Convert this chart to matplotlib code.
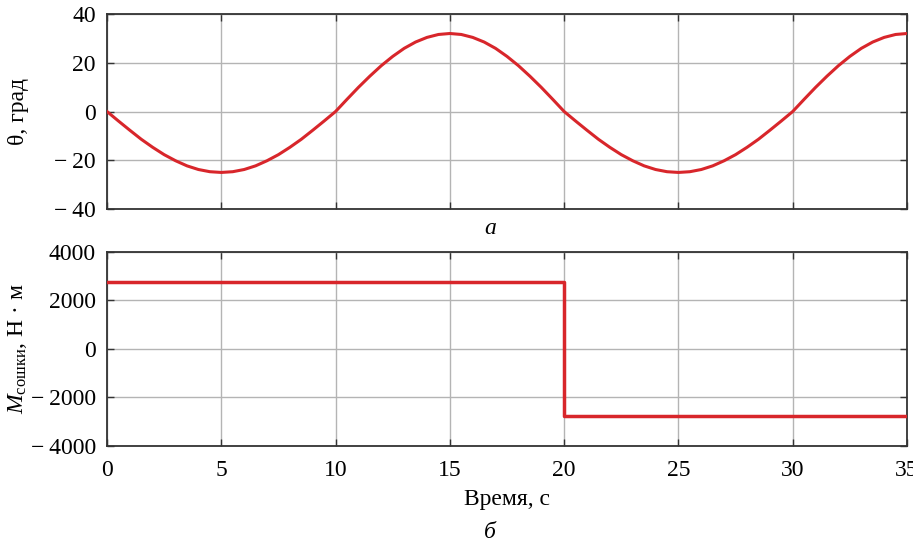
import matplotlib
matplotlib.use("Agg")
import matplotlib.pyplot as plt
from matplotlib.ticker import FixedLocator, FuncFormatter

plt.rcParams['font.family'] = ['Liberation Serif', 'DejaVu Serif']
plt.rcParams['mathtext.fontset'] = 'custom'
plt.rcParams['mathtext.rm'] = 'Liberation Serif'
plt.rcParams['mathtext.it'] = 'Liberation Serif:italic'

# ---- data ----
time_theta = [0, 0.5, 1, 1.5, 2, 2.5, 3, 3.5, 4, 4.5, 5, 5.5, 6, 6.5, 7, 7.5, 8, 8.5, 9, 9.5,
              10, 10.5, 11, 11.5, 12, 12.5, 13, 13.5, 14, 14.5, 15, 15.5, 16, 16.5, 17, 17.5,
              18, 18.5, 19, 19.5, 20, 20.5, 21, 21.5, 22, 22.5, 23, 23.5, 24, 24.5, 25, 25.5,
              26, 26.5, 27, 27.5, 28, 28.5, 29, 29.5, 30, 30.5, 31, 31.5, 32, 32.5, 33, 33.5,
              34, 34.5, 35]
theta = [0, -3.9, -7.7, -11.4, -14.7, -17.7, -20.2, -22.3, -23.8, -24.7, -25.0, -24.7, -23.8,
         -22.3, -20.2, -17.7, -14.7, -11.4, -7.7, -3.9,
         0, 5.0, 9.9, 14.5, 18.8, 22.6, 25.9, 28.5, 30.4, 31.6, 32.0, 31.6, 30.4, 28.5, 25.9,
         22.6, 18.8, 14.5, 9.9, 5.0,
         0, -3.9, -7.7, -11.4, -14.7, -17.7, -20.2, -22.3, -23.8, -24.7, -25.0, -24.7, -23.8,
         -22.3, -20.2, -17.7, -14.7, -11.4, -7.7, -3.9,
         0, 5.0, 9.9, 14.5, 18.8, 22.6, 25.9, 28.5, 30.4, 31.6, 32.0]

time_moment = [0, 20, 20, 35]
moment = [2780, 2780, -2780, -2780]

x_ticks = [0, 5, 10, 15, 20, 25, 30, 35]
theta_ticks = [-40, -20, 0, 20, 40]
moment_ticks = [-4000, -2000, 0, 2000, 4000]

xlabel = "Время, с"
theta_label = "θ, град"
moment_label = r"$M_{\mathrm{сошки}}$, Н · м"
cap_a = "а"
cap_b = "б"

# ---- styling ----
red = '#d8262b'
grid_col = '#b4b4b4'
spine_col = '#333333'
fs = 17


def fmt(v, pos):
    v = int(round(v))
    if v < 0:
        return '\u2212\u2009' + str(-v)
    return str(v)


fig = plt.figure(figsize=(9.13, 5.46), dpi=100)
ax1 = fig.add_axes([107 / 913, 1 - 209 / 546, 800 / 913, 195 / 546])
ax2 = fig.add_axes([107 / 913, 1 - 446 / 546, 800 / 913, 194 / 546])

ax1.plot(time_theta, theta, color=red, lw=2.2, zorder=3)
ax2.plot(time_moment, moment, color=red, lw=2.5, zorder=3)

for ax, yt, lo, hi in [(ax1, theta_ticks, -40, 40), (ax2, moment_ticks, -4000, 4000)]:
    ax.set_xlim(0, 35)
    ax.set_ylim(lo, hi)
    ax.xaxis.set_major_locator(FixedLocator(x_ticks))
    ax.yaxis.set_major_locator(FixedLocator(yt))
    ax.yaxis.set_major_formatter(FuncFormatter(fmt))
    ax.grid(True, color=grid_col, lw=1.0, zorder=0)
    ax.tick_params(direction='in', top=True, right=True, length=5, width=1.0,
                   color=spine_col, labelsize=fs, pad=8)
    for s in ax.spines.values():
        s.set_color(spine_col)
        s.set_linewidth(1.3)

ax1.tick_params(labelbottom=False)
ax2.tick_params(axis='x', pad=10)

ax1.set_ylabel(theta_label, fontsize=fs)
ax2.set_ylabel(moment_label, fontsize=fs)
ax1.yaxis.set_label_coords(-0.098, 0.5)
ax2.yaxis.set_label_coords(-0.098, 0.5)

ax2.set_xlabel(xlabel, fontsize=fs, labelpad=6)

fig.text(490 / 913, 1 - 228 / 546, cap_a, fontsize=fs, style='italic', ha='center', va='center')
fig.text(490 / 913, 1 - 532 / 546, cap_b, fontsize=fs, style='italic', ha='center', va='center')

fig.savefig('out.png', dpi=100)
